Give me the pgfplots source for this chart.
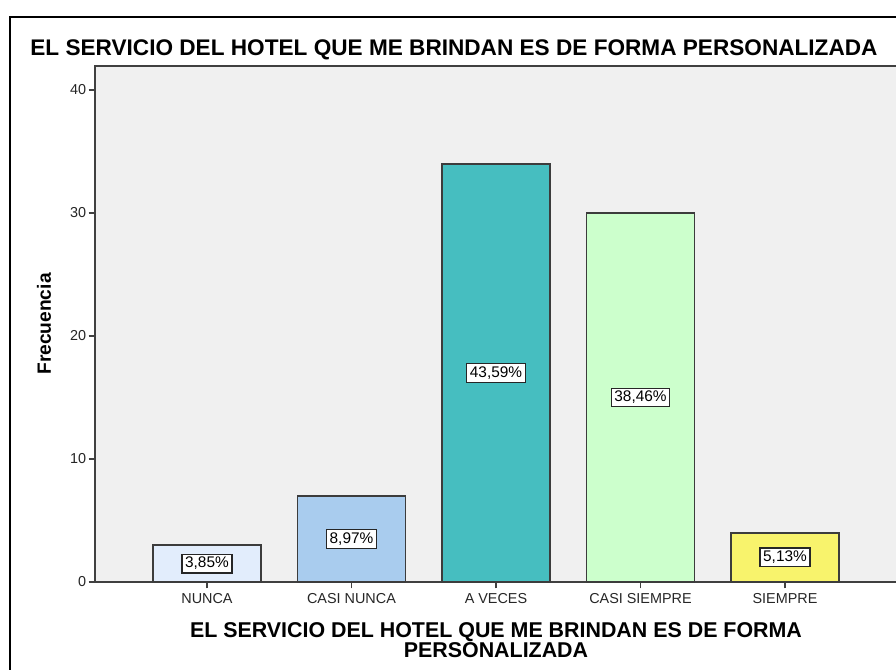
\documentclass[border=0pt]{standalone}
\usepackage{fontspec}
\setmainfont{Liberation Sans}
\usepackage{pgfplots}
\pgfplotsset{compat=1.18}
\usepackage{pgfplotstable}

\definecolor{bgplot}{RGB}{240,240,240}
\definecolor{cNunca}{RGB}{226,237,252}
\definecolor{cCasiNunca}{RGB}{169,204,238}
\definecolor{cAVeces}{RGB}{70,190,192}
\definecolor{cCasiSiempre}{RGB}{204,255,204}
\definecolor{cSiempre}{RGB}{248,243,108}
\definecolor{edge}{RGB}{60,60,60}

\pgfplotstableread{
x freq half pct
0 3 1.5 3.85
1 7 3.5 8.97
2 34 17 43.59
3 30 15 38.46
4 4 2 5.13
}\datatable

\begin{document}
\begin{tikzpicture}
\path[use as bounding box] (0,0) rectangle (448pt,335pt);
\clip (0,0) rectangle (448pt,335pt);
\fill[white] (0,0) rectangle (448pt,335pt);
\draw[black, line width=1.1pt] (5pt,-20pt) rectangle (470pt,326.5pt);
\begin{axis}[
  at={(47.5pt,44pt)}, anchor=south west,
  scale only axis, width=401pt, height=258pt,
  xmin=-0.775, xmax=4.775, ymin=0, ymax=41.95,
  axis background/.style={fill=bgplot},
  axis line style={draw=black!75, line width=0.8pt},
  xtick={0,1,2,3,4},
  xticklabels={NUNCA,CASI NUNCA,A VECES,CASI SIEMPRE,SIEMPRE},
  ytick={0,10,20,30,40},
  xtick pos=bottom, ytick pos=left,
  tick align=outside,
  major tick length=3.2pt,
  tick style={draw=black!75, line width=0.6pt},
  /pgf/number format/assume math mode=true,
  ticklabel style={font=\fontsize{7.2pt}{8pt}\selectfont, text=black!85},
  yticklabel style={inner sep=1pt},
  xticklabel style={inner sep=1pt, yshift=-1.5pt},
  xlabel={EL SERVICIO DEL HOTEL QUE ME BRINDAN ES DE FORMA\\PERSONALIZADA},
  xlabel style={at={(axis description cs:0.5,0)}, anchor=north, yshift=-20pt, align=center, inner sep=0pt, font=\bfseries\fontsize{10.7pt}{10pt}\selectfont},
  ylabel={Frecuencia},
  ylabel style={at={(axis description cs:-0.0636,0.5)}, anchor=center, inner sep=0pt, font=\bfseries\fontsize{9.6pt}{11pt}\selectfont},
  clip=false,
]
\addplot[ybar, bar width=0.75, bar shift=0pt, fill=cNunca, draw=edge, line width=0.8pt] table[x=x, y=freq, restrict expr to domain={\thisrow{x}}{0:0}] {\datatable};
\addplot[ybar, bar width=0.75, bar shift=0pt, fill=cCasiNunca, draw=edge, line width=0.8pt] table[x=x, y=freq, restrict expr to domain={\thisrow{x}}{1:1}] {\datatable};
\addplot[ybar, bar width=0.75, bar shift=0pt, fill=cAVeces, draw=edge, line width=0.8pt] table[x=x, y=freq, restrict expr to domain={\thisrow{x}}{2:2}] {\datatable};
\addplot[ybar, bar width=0.75, bar shift=0pt, fill=cCasiSiempre, draw=edge, line width=0.8pt] table[x=x, y=freq, restrict expr to domain={\thisrow{x}}{3:3}] {\datatable};
\addplot[ybar, bar width=0.75, bar shift=0pt, fill=cSiempre, draw=edge, line width=0.8pt] table[x=x, y=freq, restrict expr to domain={\thisrow{x}}{4:4}] {\datatable};
\addplot[draw=none, mark=none, point meta=explicit,
  nodes near coords={\pgfmathprintnumber[fixed,fixed zerofill,precision=2,use comma]{\pgfplotspointmeta}\%},
  nodes near coords style={anchor=center, fill=white, draw=black!85, line width=0.6pt, inner xsep=1.6pt, inner ysep=1.5pt, font=\fontsize{7.7pt}{9pt}\selectfont, text=black},
] table[x=x, y=half, meta=pct] {\datatable};
\end{axis}
\node[anchor=base west, inner sep=0pt, font=\bfseries\fontsize{11.3pt}{13pt}\selectfont] at (15pt,307pt) {EL SERVICIO DEL HOTEL QUE ME BRINDAN ES DE FORMA PERSONALIZADA};
\end{tikzpicture}
\end{document}
